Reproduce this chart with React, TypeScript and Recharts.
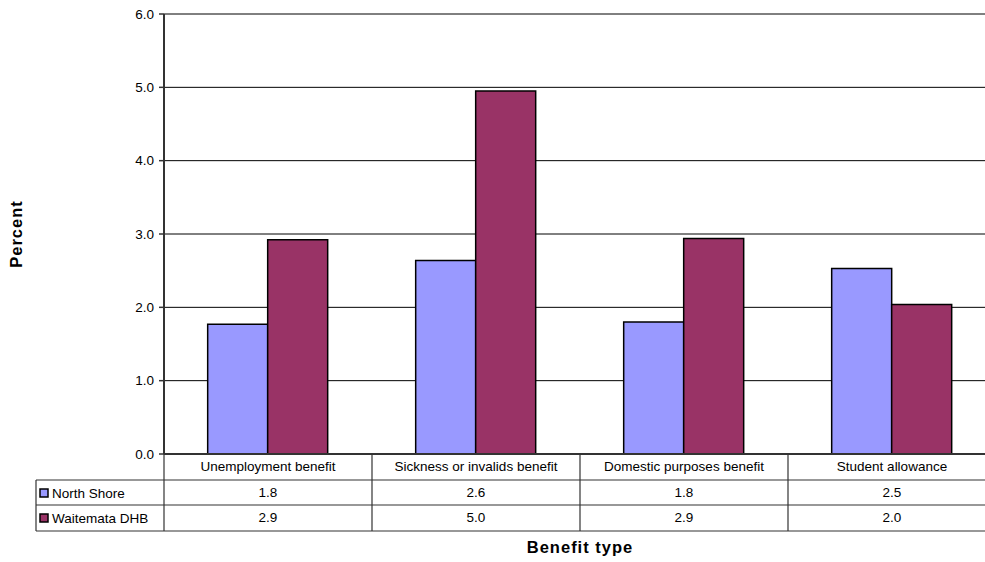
import { BarChart, Bar, XAxis, YAxis, CartesianGrid, Label } from 'recharts';

const categories = [
  'Unemployment benefit',
  'Sickness or invalids benefit',
  'Domestic purposes benefit',
  'Student allowance',
];
const northShore = [1.77, 2.64, 1.8, 2.53];
const waitemata = [2.92, 4.95, 2.94, 2.04];
const yTicks = [0, 1, 2, 3, 4, 5, 6];

const series = [
  { key: 'northShore', name: 'North Shore', color: '#9999FF', values: northShore },
  { key: 'waitemata', name: 'Waitemata DHB', color: '#993366', values: waitemata },
];

const data = categories.map((category, i) => ({
  category,
  northShore: northShore[i],
  waitemata: waitemata[i],
}));

// the chart is a little wider than the frame, its right edge is cut off
const FRAME_W = 985;
const WIDTH = 996;
const HEIGHT = 562;
const TOP = 14;
const AXIS_W = 164;
const AXIS_H = 108;
const PLOT_BOTTOM = HEIGHT - AXIS_H;
const BAND = (WIDTH - AXIS_W) / categories.length;
const FONT = 'Arial, "Liberation Sans", sans-serif';
const LINE = '#333';
const TEXT_SIZE = 13.5;

// row boundaries of the data table under the axis
const ROWS = [PLOT_BOTTOM + 26, PLOT_BOTTOM + 51, PLOT_BOTTOM + 77];
const LEGEND_LEFT = 36;

const TableTick = (props: any) => {
  const { x, payload } = props;
  const index = payload?.index ?? props.index;
  const left = x - BAND / 2;
  const right = x + BAND / 2;
  const textProps = { fontFamily: FONT, fontSize: TEXT_SIZE, fill: '#000', textAnchor: 'middle' as const };
  return (
    <g>
      <line x1={right} y1={PLOT_BOTTOM} x2={right} y2={ROWS[2]} stroke={LINE} strokeWidth={1.2} />
      {ROWS.map((ry) => (
        <line key={ry} x1={left} y1={ry} x2={right} y2={ry} stroke={LINE} strokeWidth={1.2} />
      ))}
      <text x={x} y={PLOT_BOTTOM + 17} {...textProps}>{payload.value}</text>
      {series.map((s, r) => (
        <text key={s.key} x={x} y={ROWS[r] + 17} {...textProps}>
          {s.values[index].toFixed(1)}
        </text>
      ))}
      {index === 0 && (
        <g>
          <line x1={left} y1={PLOT_BOTTOM} x2={left} y2={ROWS[2]} stroke={LINE} strokeWidth={1.2} />
          <line x1={LEGEND_LEFT} y1={ROWS[0]} x2={LEGEND_LEFT} y2={ROWS[2]} stroke={LINE} strokeWidth={1.2} />
          {ROWS.map((ry) => (
            <line key={ry} x1={LEGEND_LEFT} y1={ry} x2={left} y2={ry} stroke={LINE} strokeWidth={1.2} />
          ))}
          {series.map((s, r) => (
            <g key={s.key}>
              <rect x={40} y={ROWS[r] + 9} width={8} height={8} fill={s.color} stroke="#000" strokeWidth={1.5} />
              <text x={52} y={ROWS[r] + 18} fontFamily={FONT} fontSize={TEXT_SIZE} fill="#000">
                {s.name}
              </text>
            </g>
          ))}
        </g>
      )}
    </g>
  );
};

export default function App() {
  return (
    <div
      style={{
        position: 'absolute',
        left: 0,
        top: 0,
        width: FRAME_W,
        height: HEIGHT,
        overflow: 'hidden',
        background: '#fff',
      }}
    >
      <BarChart
        width={WIDTH}
        height={HEIGHT}
        data={data}
        margin={{ top: TOP, right: 0, bottom: 0, left: 0 }}
        barCategoryGap="21%"
        barGap={0}
      >
        <CartesianGrid vertical={false} stroke="#000" strokeWidth={1} />
        <XAxis
          dataKey="category"
          height={AXIS_H}
          interval={0}
          tickLine={false}
          axisLine={{ stroke: LINE, strokeWidth: 2 }}
          tick={<TableTick />}
        >
          <Label
            value="Benefit type"
            position="insideBottom"
            offset={9}
            fill="#000"
            fontSize={16.5}
            fontWeight="bold"
            fontFamily={FONT}
            letterSpacing={1}
          />
        </XAxis>
        <YAxis
          width={AXIS_W}
          domain={[0, 6]}
          ticks={yTicks}
          interval={0}
          tickFormatter={(v: number) => v.toFixed(1)}
          tickSize={5}
          tickMargin={5}
          tick={{ fill: '#000', fontSize: TEXT_SIZE, fontFamily: FONT }}
          tickLine={{ stroke: LINE, strokeWidth: 1.5 }}
          axisLine={{ stroke: LINE, strokeWidth: 2 }}
        >
          <Label
            content={() => (
              <text
                x={0}
                y={0}
                transform={`translate(22, ${(TOP + PLOT_BOTTOM) / 2}) rotate(-90)`}
                textAnchor="middle"
                fontFamily={FONT}
                fontSize={16.5}
                fontWeight="bold"
                letterSpacing={1}
                fill="#000"
              >
                Percent
              </text>
            )}
          />
        </YAxis>
        {series.map((s) => (
          <Bar
            key={s.key}
            dataKey={s.key}
            name={s.name}
            fill={s.color}
            stroke="#000"
            strokeWidth={1.5}
            isAnimationActive={false}
          />
        ))}
      </BarChart>
    </div>
  );
}
